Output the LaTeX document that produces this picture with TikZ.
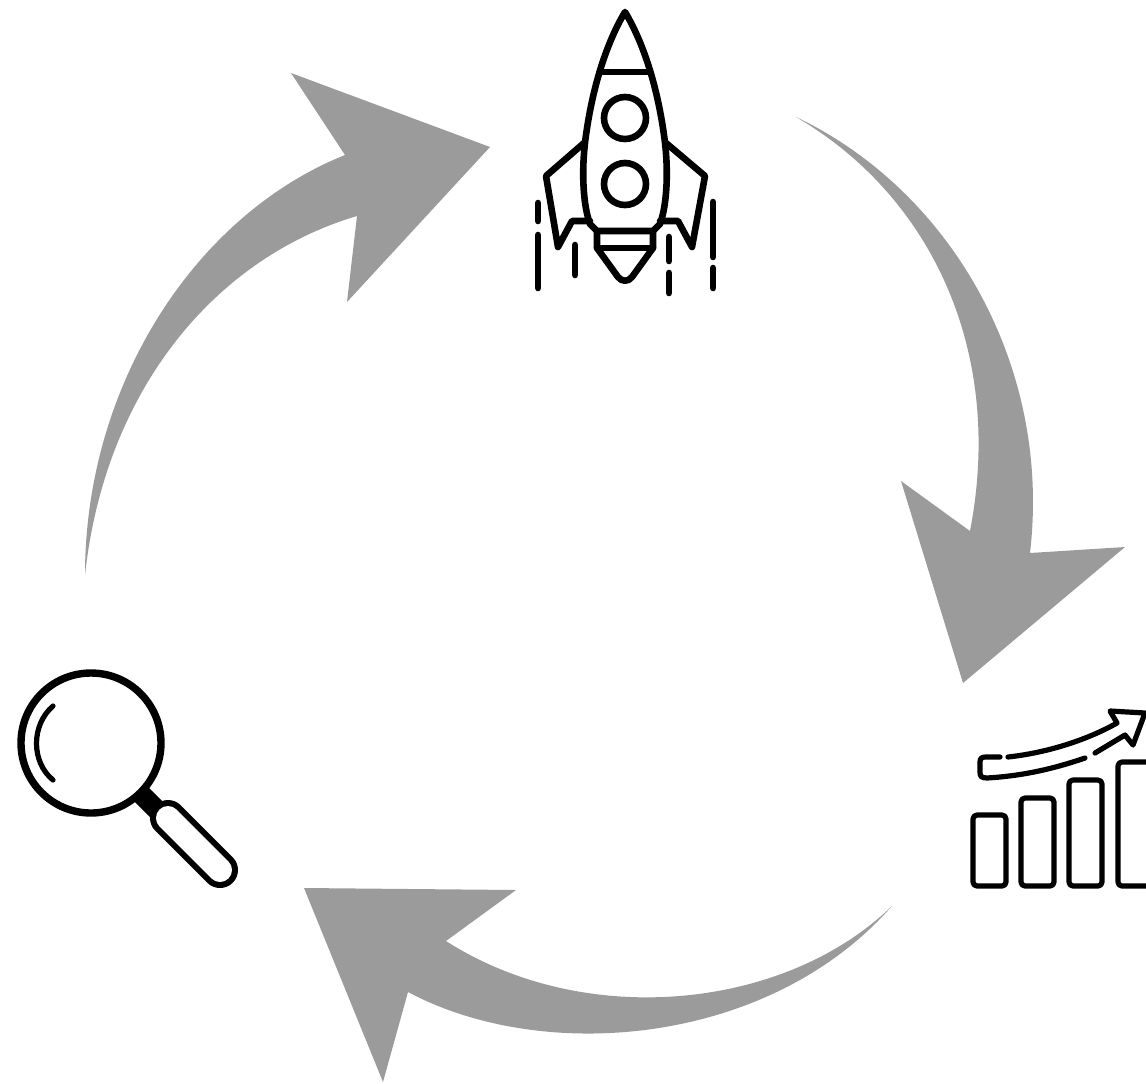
\documentclass[tikz,border=0pt]{standalone}
\definecolor{arrowgray}{HTML}{9B9B9B}
\tikzset{
  cyclearrow/.style={fill=arrowgray,draw=none},
  icon/.style={draw=black,line width=3.3pt,line cap=round,line join=round},
  iconthin/.style={draw=black,line width=2.6pt,line cap=round,line join=round}
}
\begin{document}
\begin{tikzpicture}[x=0.5pt,y=-0.5pt]
\useasboundingbox (0,0) rectangle (1146,1083);
\clip (0,0) rectangle (1146,1083);
% cycle arrows
\fill[cyclearrow] (85,575) .. controls (85,385) and (195,215) .. (345,155)
  -- (291,73) -- (490,147) -- (347,302) -- (357,216)
  .. controls (215,258) and (105,390) .. (85,575) -- cycle;
\fill[cyclearrow] (796,117) .. controls (950,190) and (1052,365) .. (1030,553)
  -- (1125,547) -- (963,683) -- (901,481) -- (970,531)
  .. controls (1005,350) and (930,195) .. (796,117) -- cycle;
\fill[cyclearrow] (892,906) .. controls (770,1045) and (545,1065) .. (408,992)
  -- (383,1082) -- (304,888) -- (516,890) -- (446,941)
  .. controls (585,1030) and (785,1010) .. (892,906) -- cycle;
% rocket
\draw[icon] (625,12) .. controls (607,42) and (593,85) .. (586,135)
  .. controls (581,170) and (583,205) .. (590,224) -- (597,231) -- (653,231) -- (660,224)
  .. controls (667,205) and (669,170) .. (664,135)
  .. controls (657,85) and (643,42) .. (625,12) -- cycle;
\draw[icon] (600,72) -- (650,72);
\draw[icon] (625,118) circle[radius=21];
\draw[icon] (625,184) circle[radius=21];
\draw[icon] (584,143) -- (546,176) -- (558,247) -- (572,221) -- (590,221);
\draw[icon] (666,143) -- (705,176) -- (692,247) -- (678,221) -- (660,221);
\draw[icon] (597,231) -- (597,248) -- (618,277) .. controls (622,282) and (628,282) .. (632,277) -- (653,248) -- (653,231);
\draw[icon] (597,248) -- (653,248);
\foreach \x/\a/\b in {538/203/221,538/235/288,575/245/275,669/237/261,669/273/293,713/202/257,713/268/288}
  \draw[icon] (\x,\a) -- (\x,\b);
% chart
\foreach \l/\r/\t in {973/1006/815,1021/1054/798,1069/1102/780,1118/1160/762}
  \draw[iconthin,rounded corners=2pt] (\l,886) -- (\l,\t) -- (\r,\t) -- (\r,886) -- cycle;
\draw[iconthin] (1008,757) .. controls (1045,753) and (1085,741) .. (1117,723)
  -- (1110,711) -- (1145,713) -- (1133,745) -- (1125,735) -- (1095,753);
\draw[iconthin] (1085,758) .. controls (1050,770) and (1020,776) .. (987,778)
  .. controls (981,778) and (980,776) .. (980,772) -- (980,762) .. controls (980,758) and (982,757) .. (986,757) -- (1000,757);
% magnifier
\draw[black,line width=10pt,line cap=butt] (139,792) -- (157,810);
\draw[black,line width=18pt,line cap=round] (168,818) -- (220,870);
\draw[white,line width=12pt,line cap=round] (168,818) -- (220,870);
\draw[icon,line width=3.7pt,fill=white] (91,743) circle[radius=70];
\draw[iconthin] (53,706) .. controls (31,725) and (31,762) .. (53,780);
\end{tikzpicture}
\end{document}
